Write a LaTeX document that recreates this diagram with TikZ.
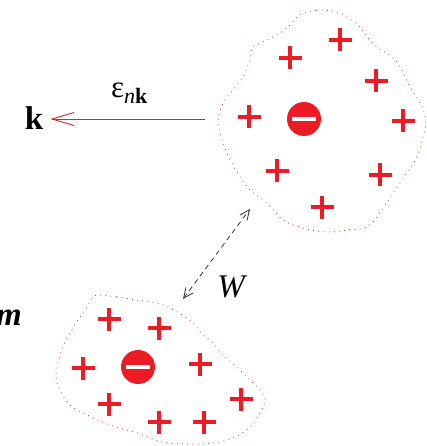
\documentclass[tikz,border=0pt]{standalone}
\usepackage{fontspec}
\setmainfont{Liberation Serif}
\usetikzlibrary{arrows.meta,calc}
\definecolor{chargered}{RGB}{237,28,36}
\tikzset{
  cloud/.style={draw=chargered, line width=1.1pt, line cap=round, dash pattern=on 0pt off 5.2pt},
  pluscharge/.style={chargered, line width=3.2pt},
  bigtext/.style={font=\fontsize{33}{35}\selectfont, inner sep=0pt},
}
\newcommand{\plusat}[2]{\draw[pluscharge] (#1-11.5,#2) -- (#1+11.5,#2) (#1,#2-11.5) -- (#1,#2+11.5);}
\newcommand{\minusat}[3]{\fill[chargered] (#1,#2) circle (17);
  \fill[white] (#1-12,#2-1.8) rectangle (#1+12,#2+1.8);
  \coordinate (#3) at (#1,#2);}
\begin{document}
\begin{tikzpicture}[x=1pt,y=-1pt]
\useasboundingbox (0,0) rectangle (427,446);

% upper polaron cloud
\draw[cloud] plot[smooth cycle, tension=0.6] coordinates {
 (300,15) (317,10) (337,12) (347,17) (360,27) (367,37) (377,47) (392,57)
 (400,67) (410,87) (420,103) (426,120) (423,137) (417,157) (407,173)
 (393,193) (380,213) (367,227) (347,230) (327,232) (303,228) (283,220)
 (267,203) (250,190) (237,172) (227,153) (220,133) (218,120) (223,103)
 (233,90) (243,77) (250,60) (253,47) (267,40) (280,33) (290,25)};
\foreach \x/\y in {340/40,290/58,376/81,249/117,403/121,277/171,380/175,322/207}
  {\plusat{\x}{\y}}
\minusat{304}{119}{e1}

% lower polaron cloud
\draw[cloud] plot[smooth cycle, tension=0.6] coordinates {
 (100,295) (117,297) (137,300) (157,303) (170,308) (182,315) (193,323)
 (203,335) (213,343) (223,355) (237,367) (250,380) (260,390) (265,400)
 (260,413) (250,427) (233,438) (213,443) (187,444) (163,442) (137,433)
 (110,425) (87,415) (70,405) (60,390) (56,377) (58,363) (63,347)
 (70,333) (78,320) (87,307) (93,297)};
\foreach \x/\y in {109/319,159/328,83/368,200/364,109/404,241/399,159/422,204/422}
  {\plusat{\x}{\y}}
\minusat{138}{367}{e2}

% momentum arrow and labels
\node[bigtext, anchor=base] (k) at (34,130) {\bfseries k};
\coordinate (arrstart) at (205,119);
\draw[chargered, line width=0.9pt, shorten >=7pt,
  -{Straight Barb[length=22pt,width=13pt,line width=0.9pt]}]
  (arrstart) -- (k.east |- arrstart);
\node[bigtext, anchor=base west, font=\fontsize{31}{33}\selectfont] (eps) at (111,98)
  {ε\raisebox{-6pt}{\fontsize{22}{24}\selectfont\itshape n\upshape\bfseries k}};

% interaction between the two clouds
\coordinate (wtop) at (250,209);
\coordinate (wbot) at (183,299);
\draw[black!80, line width=0.8pt, dash pattern=on 5pt off 4pt,
  {Straight Barb[length=10pt,width=9pt,line width=0.8pt]}-{Straight Barb[length=10pt,width=9pt,line width=0.8pt]}]
  (wbot) -- (wtop);
\node[bigtext, anchor=base] (w) at (231,297) {\itshape W};

% label running off the left edge
\node[bigtext, anchor=base east] (m) at (22,325) {\bfseries\itshape m};
\end{tikzpicture}
\end{document}
